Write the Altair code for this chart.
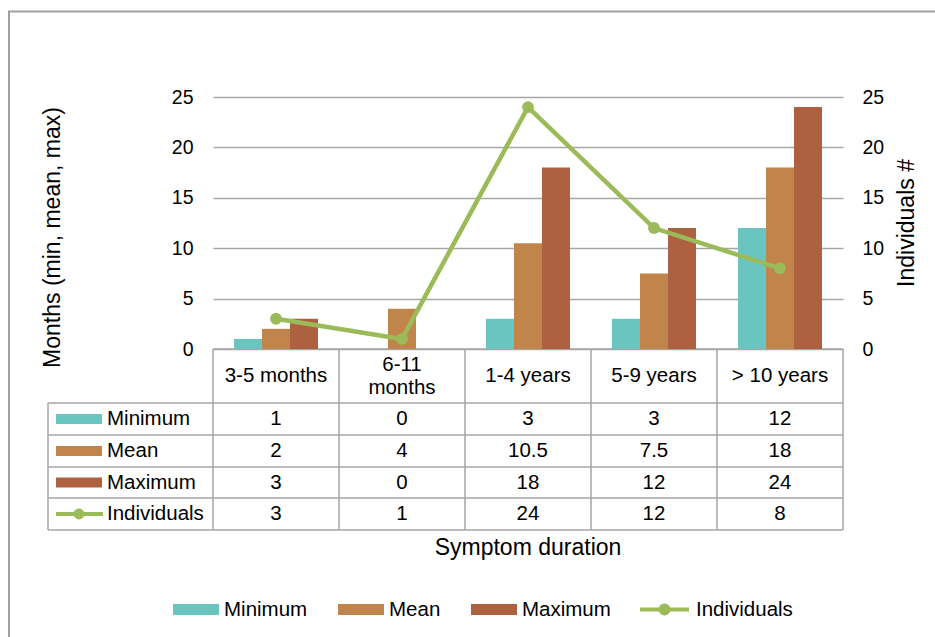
import altair as alt
import pandas as pd

# ---- data -------------------------------------------------------------
categories = ["3-5 months", "6-11 months", "1-4 years", "5-9 years", "> 10 years"]
header_labels = ["3-5 months", "6-11\nmonths", "1-4 years", "5-9 years", "> 10 years"]
minimum = [1, 0, 3, 3, 12]
mean = [2, 4, 10.5, 7.5, 18]
maximum = [3, 0, 18, 12, 24]
individuals = [3, 1, 24, 12, 8]
bar_series = ["Minimum", "Mean", "Maximum"]
line_series = "Individuals"
y_ticks = [0, 5, 10, 15, 20, 25]

# ---- styling ----------------------------------------------------------
all_series = bar_series + [line_series]
palette = ["#6AC4C0", "#C1844B", "#AD6140", "#9BBB59"]
GREEN = "#9BBB59"
GRID = "#A6A6A6"
FONT = "Liberation Sans"
TABLE_FS = 20.5
LINE_H = 23

# ---- layout (pixels, relative to the plot origin) ----------------------
PLOT_W, PLOT_H = 630, 252
PAD = {"left": 213, "top": 97, "right": 92, "bottom": 288}
TABLE_LEFT = -165
row_edges = [306, 338, 370, 401, 433]
row_centers = [(a + b) / 2 for a, b in zip(row_edges[:-1], row_edges[1:])]
header_y = 279
key_x0, key_x1, key_text_x = -157, -111, -106
legend_x = [-40, 125, 258, 427]      # left edge of each legend key
legend_key_w = 46
legend_y = 512.5

series_values = [minimum, mean, maximum]

# ---- tables -----------------------------------------------------------
bars_df = pd.DataFrame(
    [{"category": c, "series": s, "value": v}
     for s, vals in zip(bar_series, series_values)
     for c, v in zip(categories, vals)]
)
line_df = pd.DataFrame({"category": categories, "individuals": individuals})

cells = []
for i, (s, vals) in enumerate(zip(all_series, series_values + [individuals])):
    for c, v in zip(categories, vals):
        cells.append({"category": c, "text": f"{v:g}", "ty": row_centers[i]})
cells_df = pd.DataFrame(cells)

# multi-line headers: first line sits above the cell centre
header_df = pd.DataFrame({
    "category": categories,
    "text": header_labels,
    "ty": [header_y - (lbl.count("\n")) * LINE_H / 2 for lbl in header_labels],
})

rules = []
for e in row_edges:
    rules.append({"x": TABLE_LEFT, "x2": PLOT_W, "y": e, "y2": e})
rules.append({"x": 0, "x2": PLOT_W, "y": PLOT_H, "y2": PLOT_H})
for k in range(len(categories) + 1):
    xe = k * PLOT_W / len(categories)
    rules.append({"x": xe, "x2": xe, "y": PLOT_H, "y2": row_edges[-1]})
rules.append({"x": TABLE_LEFT, "x2": TABLE_LEFT, "y": row_edges[0], "y2": row_edges[-1]})
rules_df = pd.DataFrame(rules)

row_keys_df = pd.DataFrame({"series": all_series, "cy": row_centers})
legend_df = pd.DataFrame({"series": all_series, "lx": legend_x})

# ---- scales -----------------------------------------------------------
x_scale = alt.Scale(domain=categories, paddingInner=0, paddingOuter=0)
color_scale = alt.Scale(domain=all_series, range=palette)
X = alt.X("category:N", scale=x_scale, axis=None)

# ---- marks ------------------------------------------------------------
bars = alt.Chart(bars_df).mark_bar().encode(
    x=X,
    xOffset=alt.XOffset("series:N", sort=bar_series,
                        scale=alt.Scale(domain=bar_series, paddingInner=0, paddingOuter=0.75)),
    y=alt.Y("value:Q", scale=alt.Scale(domain=[0, 25]),
            axis=alt.Axis(values=y_ticks, title="Months (min, mean, max)", grid=True,
                          gridColor=GRID, gridWidth=1.5, domain=False, ticks=False,
                          labelFontSize=19.5, labelPadding=20, labelColor="#000",
                          titleFontSize=23, titleFontWeight="normal", titleColor="#000",
                          titleX=-161, titleY=140, titleAngle=270, titleBaseline="middle",
                          titleAlign="center")),
    color=alt.Color("series:N", scale=color_scale, legend=None),
)

line = alt.Chart(line_df).mark_line(
    color=GREEN, strokeWidth=4.5,
    point=alt.OverlayMarkDef(filled=True, color=GREEN, size=140, opacity=1),
).encode(
    x=X,
    y=alt.Y("individuals:Q", scale=alt.Scale(domain=[0, 25]),
            axis=alt.Axis(orient="right", values=y_ticks, title="Individuals #", grid=False,
                          domain=False, ticks=False, labelFontSize=19.5, labelPadding=19,
                          labelColor="#000", titleFontSize=23, titleFontWeight="normal",
                          titleColor="#000", titleX=63, titleY=125.5, titleAngle=270,
                          titleBaseline="middle", titleAlign="center")),
)

table_rules = alt.Chart(rules_df).mark_rule(color=GRID, strokeWidth=1.5).encode(
    x=alt.X("x:Q", scale=None), x2="x2:Q",
    y=alt.Y("y:Q", scale=None), y2="y2:Q",
)

cell_text = alt.Chart(cells_df).mark_text(fontSize=TABLE_FS, color="#000", baseline="middle").encode(
    x=X, y=alt.Y("ty:Q", scale=None), text="text:N",
)
header_text = alt.Chart(header_df).mark_text(
    fontSize=TABLE_FS, color="#000", baseline="middle", lineBreak="\n", lineHeight=LINE_H
).encode(x=X, y=alt.Y("ty:Q", scale=None), text="text:N")

row_label = alt.Chart(row_keys_df).mark_text(
    fontSize=TABLE_FS, color="#000", align="left", baseline="middle"
).encode(x=alt.value(key_text_x), y=alt.Y("cy:Q", scale=None), text="series:N")

row_swatch = alt.Chart(row_keys_df).transform_filter(
    alt.FieldOneOfPredicate(field="series", oneOf=bar_series)
).transform_calculate(y0="datum.cy - 5", y1="datum.cy + 5").mark_rect().encode(
    x=alt.value(key_x0), x2=alt.value(key_x1),
    y=alt.Y("y0:Q", scale=None), y2="y1:Q",
    color=alt.Color("series:N", scale=color_scale, legend=None),
)
row_line_key = alt.Chart(row_keys_df).transform_filter(
    alt.datum.series == line_series
).mark_rule(color=GREEN, strokeWidth=4).encode(
    x=alt.value(key_x0), x2=alt.value(key_x1 + 1), y=alt.Y("cy:Q", scale=None),
)
row_dot_key = alt.Chart(row_keys_df).transform_filter(
    alt.datum.series == line_series
).mark_circle(color=GREEN, size=120, opacity=1).encode(
    x=alt.value((key_x0 + key_x1) / 2), y=alt.Y("cy:Q", scale=None),
)

x_title = alt.Chart(pd.DataFrame({"t": ["Symptom duration"]})).mark_text(
    fontSize=23, color="#000", baseline="middle"
).encode(x=alt.value(PLOT_W / 2), y=alt.value(451), text="t:N")

# bottom legend
legend_sw = alt.Chart(legend_df).transform_filter(
    alt.FieldOneOfPredicate(field="series", oneOf=bar_series)
).transform_calculate(lx2=f"datum.lx + {legend_key_w}").mark_rect().encode(
    x=alt.X("lx:Q", scale=None), x2="lx2:Q",
    y=alt.value(legend_y - 5.5), y2=alt.value(legend_y + 5.5),
    color=alt.Color("series:N", scale=color_scale, legend=None),
)
legend_line = alt.Chart(legend_df).transform_filter(
    alt.datum.series == line_series
).transform_calculate(lx2=f"datum.lx + {legend_key_w + 3}").mark_rule(
    color=GREEN, strokeWidth=4
).encode(x=alt.X("lx:Q", scale=None), x2="lx2:Q", y=alt.value(legend_y))
legend_dot = alt.Chart(legend_df).transform_filter(
    alt.datum.series == line_series
).transform_calculate(cx=f"datum.lx + {(legend_key_w + 3) / 2}").mark_circle(
    color=GREEN, size=140, opacity=1
).encode(x=alt.X("cx:Q", scale=None), y=alt.value(legend_y))
legend_txt = alt.Chart(legend_df).transform_calculate(
    tx=f"datum.lx + {legend_key_w + 5} + (datum.series == '{line_series}' ? 5 : 0)"
).mark_text(fontSize=20.5, color="#000", align="left", baseline="middle").encode(
    x=alt.X("tx:Q", scale=None), y=alt.value(legend_y), text="series:N",
)

frame = alt.Chart(pd.DataFrame({"f": [0]})).mark_rect(
    filled=False, stroke="#A0A0A0", strokeWidth=2
).encode(x=alt.value(-204), x2=alt.value(760), y=alt.value(-85.5), y2=alt.value(600))

chart = alt.layer(
    frame, table_rules, bars, line, cell_text, header_text, row_label, row_swatch,
    row_line_key, row_dot_key, x_title, legend_sw, legend_line, legend_dot, legend_txt,
).resolve_scale(y="independent").properties(
    width=PLOT_W, height=PLOT_H,
    autosize=alt.AutoSizeParams(type="none"),
    padding=PAD,
).configure(font=FONT).configure_view(stroke=None)

chart.save("out.html", embed_options={"renderer": "svg", "actions": False})
